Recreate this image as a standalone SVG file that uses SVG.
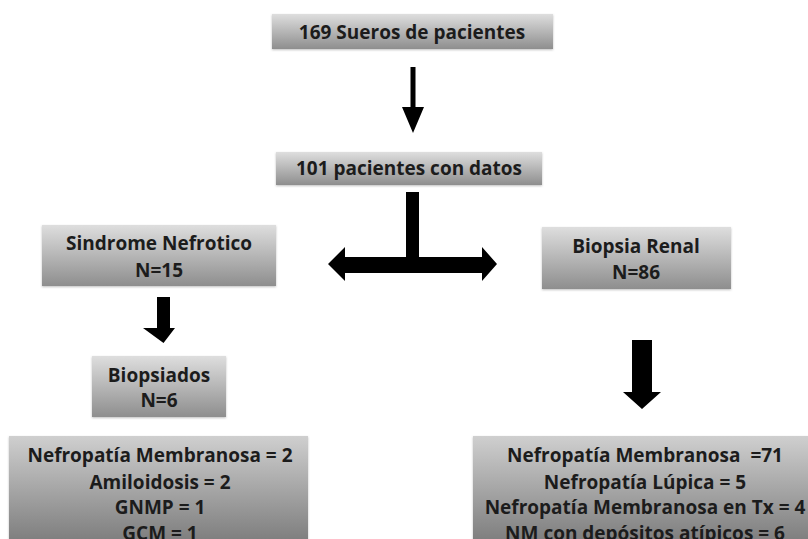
<svg xmlns="http://www.w3.org/2000/svg" width="808" height="539" viewBox="0 0 808 539">
<defs>
<linearGradient id="g" x1="0" y1="0" x2="0" y2="1">
<stop offset="0" stop-color="#dedede"/>
<stop offset="1" stop-color="#8e8e8e"/>
</linearGradient>
<linearGradient id="gb" x1="0" y1="0" x2="0" y2="1">
<stop offset="0" stop-color="#cfcfcf"/>
<stop offset="1" stop-color="#7a7a7a"/>
</linearGradient>
<filter id="sh" x="-5%" y="-10%" width="110%" height="130%">
<feDropShadow dx="0" dy="1" stdDeviation="1" flood-color="#000" flood-opacity="0.25"/>
</filter>
</defs>
<style>
.box{fill:url(#g);filter:url(#sh)}
.boxb{fill:url(#gb);filter:url(#sh)}
text{font-family:"Open Sans","Noto Sans","Liberation Sans",sans-serif;font-weight:700;font-size:19px;fill:#1c1c1c;text-anchor:middle}
.arr{fill:#000}
</style>
<rect width="808" height="539" fill="#fff"/>
<g id="n1"><rect class="box" x="272" y="14" width="281" height="35"/><text x="412" y="38.5">169 Sueros de pacientes</text></g>
<g id="n2"><rect class="box" x="276" y="152" width="266" height="33"/><text x="409" y="175">101 pacientes con datos</text></g>
<g id="n3"><rect class="box" x="42" y="225" width="234" height="61"/><text x="159" y="250">Sindrome Nefrotico</text><text x="159" y="277">N=15</text></g>
<g id="n4"><rect class="box" x="542" y="227" width="189" height="62"/><text x="636" y="253">Biopsia Renal</text><text x="636" y="279">N=86</text></g>
<g id="n5"><rect class="box" x="92" y="356" width="134" height="61"/><text x="159" y="382">Biopsiados</text><text x="159" y="407">N=6</text></g>
<g id="n6"><rect class="boxb" x="9" y="436" width="299" height="110"/><text x="160" y="462">Nefropatía Membranosa = 2</text><text x="160" y="489">Amiloidosis = 2</text><text x="160" y="514">GNMP = 1</text><text x="160" y="539.5">GCM = 1</text></g>
<g id="n7"><rect class="boxb" x="473" y="436" width="340" height="110"/><text x="645" y="462" xml:space="preserve">Nefropatía Membranosa  =71</text><text x="645" y="489">Nefropatía Lúpica = 5</text><text x="645" y="514">Nefropatía Membranosa en Tx = 4</text><text x="645" y="539.5">NM con depósitos atípicos = 6</text></g>
<g id="connectors">
<polygon class="arr" points="410.5,67 415.5,67 415.5,107 424,107 413,133 402,107 410.5,107"/>
<rect class="arr" x="406" y="192" width="13" height="66"/>
<polygon class="arr" points="328,264 345,247 345,257 482,257 482,247 497,264 482,281 482,273 345,273 345,281"/>
<polygon class="arr" points="157,297 170,297 170,328 175,328 163.5,343 143,328 157,328"/>
<polygon class="arr" points="632,340 652,340 652,392 661,392 642,409 623,392 632,392"/>
</g>
</svg>
